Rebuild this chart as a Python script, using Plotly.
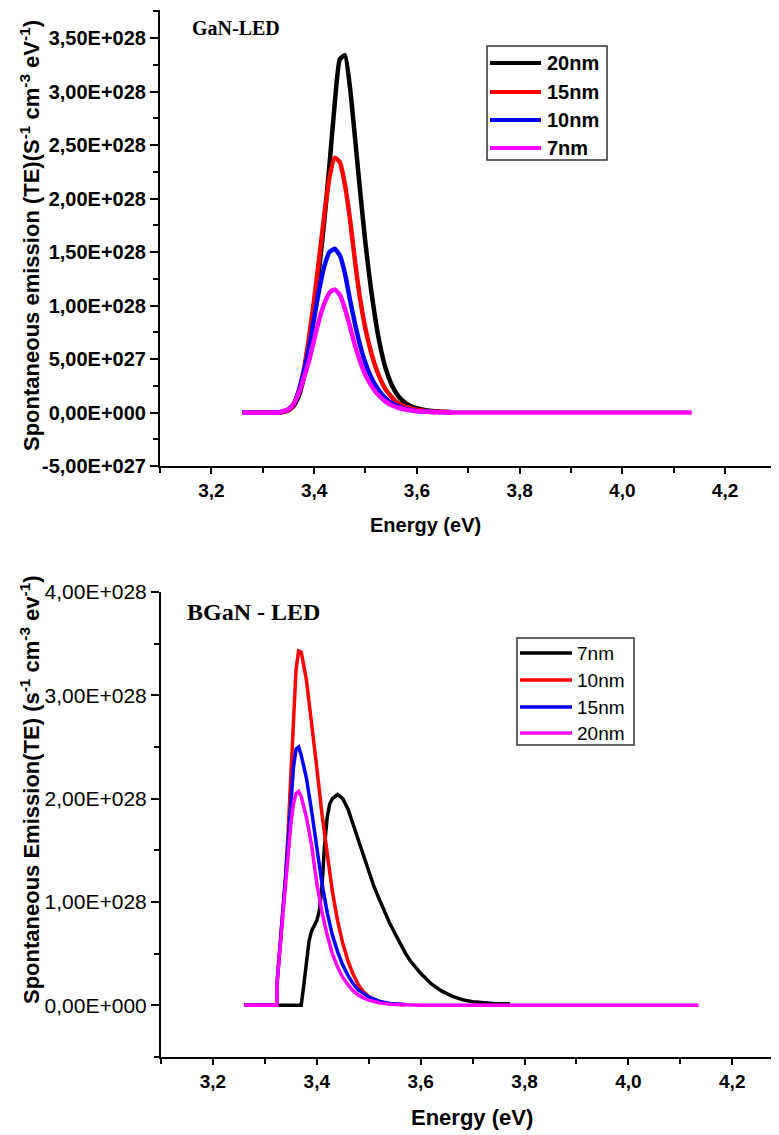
import plotly.graph_objects as go

SCALE = 1e28  # values below are in units of 1E+028

# ---------------- GaN-LED (top) ----------------
gan_energy = [3.26, 3.33, 3.35, 3.36, 3.37, 3.38, 3.39, 3.40, 3.41, 3.42, 3.43, 3.44,
              3.45, 3.46, 3.47, 3.48, 3.49, 3.50, 3.51, 3.52, 3.53, 3.54, 3.55, 3.56, 3.57,
              3.58, 3.59, 3.60, 3.62, 3.64, 3.667]
gan_energy_long = gan_energy + [3.70, 3.80, 3.90, 4.00, 4.135]
gan_20nm = [0, 0.0, 0.02, 0.06, 0.15, 0.33, 0.60, 0.95, 1.35, 1.80, 2.32, 2.88,
            3.30, 3.34, 3.03, 2.55, 2.05, 1.58, 1.18, 0.85, 0.59, 0.40, 0.27, 0.18, 0.12,
            0.08, 0.055, 0.04, 0.02, 0.01, 0.005]
gan_15nm = [0, 0.0, 0.02, 0.07, 0.20, 0.40, 0.70, 1.05, 1.45, 1.85, 2.20, 2.38,
            2.34, 2.13, 1.80, 1.40, 1.05, 0.78, 0.58, 0.42, 0.30, 0.21, 0.15, 0.10, 0.07,
            0.05, 0.035, 0.025, 0.012, 0.006, 0.003]
gan_10nm = [0, 0.0, 0.03, 0.08, 0.20, 0.38, 0.60, 0.88, 1.15, 1.37, 1.50, 1.53,
            1.47, 1.30, 1.05, 0.82, 0.62, 0.46, 0.34, 0.25, 0.18, 0.13, 0.09, 0.065, 0.045,
            0.03, 0.022, 0.015, 0.008, 0.004, 0.002]
gan_7nm = [0, 0.0, 0.03, 0.08, 0.18, 0.32, 0.48, 0.68, 0.87, 1.02, 1.12, 1.15,
           1.10, 0.97, 0.80, 0.62, 0.47, 0.35, 0.26, 0.19, 0.14, 0.10, 0.07, 0.05, 0.035,
           0.025, 0.018, 0.012, 0.006, 0.003, 0.001, 0, 0, 0, 0, 0]

# ---------------- BGaN-LED (bottom) ----------------
bgan_energy = [3.26, 3.30, 3.323, 3.324, 3.33, 3.335, 3.34, 3.345, 3.35, 3.355, 3.36, 3.365,
               3.37, 3.38, 3.39, 3.40, 3.41, 3.42, 3.43, 3.44, 3.45, 3.46, 3.47, 3.48, 3.49,
               3.50, 3.52, 3.54, 3.57]
bgan_energy_long = bgan_energy + [3.60, 3.70, 3.80, 3.90, 4.00, 4.135]
bgan_7nm_energy = [3.26, 3.30, 3.37, 3.375, 3.38, 3.385, 3.39, 3.395, 3.40, 3.405, 3.41,
                   3.415, 3.42, 3.425, 3.43, 3.44, 3.45, 3.46, 3.47, 3.48, 3.49, 3.50, 3.51,
                   3.52, 3.53, 3.54, 3.55, 3.56, 3.57, 3.58, 3.60, 3.62, 3.64, 3.66, 3.68,
                   3.70, 3.72, 3.74, 3.772]
bgan_7nm = [0, 0, 0, 0.20, 0.45, 0.62, 0.72, 0.77, 0.82, 0.92, 1.15,
            1.55, 1.82, 1.95, 2.00, 2.04, 2.00, 1.90, 1.76, 1.60, 1.45, 1.30, 1.15,
            1.03, 0.91, 0.80, 0.70, 0.60, 0.51, 0.43, 0.31, 0.21, 0.14, 0.09, 0.055,
            0.035, 0.025, 0.018, 0.015]
bgan_10nm = [0, 0, 0, 0.25, 0.60, 0.90, 1.25, 1.70, 2.20, 2.80, 3.25, 3.43,
             3.42, 3.15, 2.75, 2.30, 1.85, 1.45, 1.10, 0.82, 0.60, 0.43, 0.30, 0.20, 0.13,
             0.085, 0.035, 0.015, 0.005]
bgan_15nm = [0, 0, 0, 0.25, 0.60, 0.90, 1.25, 1.60, 1.95, 2.30, 2.48, 2.50,
             2.42, 2.20, 1.88, 1.52, 1.18, 0.90, 0.68, 0.52, 0.39, 0.29, 0.21, 0.15, 0.11,
             0.08, 0.04, 0.018, 0.007]
bgan_20nm = [0, 0, 0, 0.25, 0.60, 0.90, 1.20, 1.50, 1.75, 1.95, 2.05, 2.07,
             2.02, 1.82, 1.55, 1.18, 0.90, 0.68, 0.50, 0.37, 0.27, 0.20, 0.14, 0.10, 0.07,
             0.05, 0.025, 0.01, 0.003, 0, 0, 0, 0, 0, 0]

# ---------------- ticks ----------------
x_tickvals = [3.2, 3.4, 3.6, 3.8, 4.0, 4.2]
x_ticktext = ["3,2", "3,4", "3,6", "3,8", "4,0", "4,2"]
x_minorvals = [3.1, 3.3, 3.5, 3.7, 3.9, 4.1, 4.3]
gan_ytickvals = [-0.5, 0, 0.5, 1.0, 1.5, 2.0, 2.5, 3.0, 3.5]
gan_yticktext = ["-5,00E+027", "0,00E+000", "5,00E+027", "1,00E+028", "1,50E+028",
                 "2,00E+028", "2,50E+028", "3,00E+028", "3,50E+028"]
gan_yminor = [-0.25, 0.25, 0.75, 1.25, 1.75, 2.25, 2.75, 3.25, 3.75]
bgan_ytickvals = [0, 1.0, 2.0, 3.0, 4.0]
bgan_yticktext = ["0,00E+000", "1,00E+028", "2,00E+028", "3,00E+028", "4,00E+028"]
bgan_yminor = [-0.5, 0.5, 1.5, 2.5, 3.5]

# page body has an 8px margin: the figure starts at (8, 8) of the 779x1135 window
OFF = 8
W, H = 779 - OFF, 1135 - OFF
SANS = "Liberation Sans, Arial"
SERIF = "Liberation Serif, Times New Roman"


def px(x):
    return (x - OFF) / W


def py(y):
    return 1 - (y - OFF) / H


def sc(v):
    return [a * SCALE for a in v]


fig = go.Figure()

top_series = [("20nm", gan_energy, gan_20nm, "#000000"),
              ("15nm", gan_energy, gan_15nm, "#ff0000"),
              ("10nm", gan_energy, gan_10nm, "#0000ff"),
              ("7nm", gan_energy_long, gan_7nm, "#ff00ff")]
for name, xs, ys, col in top_series:
    fig.add_trace(go.Scatter(x=xs, y=sc(ys), name=name, mode="lines", showlegend=False,
                             line=dict(color=col, width=4.5, shape="spline", smoothing=0.5),
                             xaxis="x", yaxis="y"))

bot_series = [("7nm", bgan_7nm_energy, bgan_7nm, "#000000"),
              ("10nm", bgan_energy, bgan_10nm, "#ff0000"),
              ("15nm", bgan_energy, bgan_15nm, "#0000ff"),
              ("20nm", bgan_energy_long, bgan_20nm, "#ff00ff")]
for name, xs, ys, col in bot_series:
    fig.add_trace(go.Scatter(x=xs, y=sc(ys), name=name, mode="lines", showlegend=False,
                             line=dict(color=col, width=3.5),
                             xaxis="x2", yaxis="y2"))

x_tick_font = dict(family=SANS, size=19, color="black", weight="bold")
gan_ytick_font = dict(family=SANS, size=20, color="black", weight="bold")
bgan_ytick_font = dict(family=SANS, size=21, color="black")


def xaxis(anchor, left_px, rng):
    return dict(domain=[px(left_px), 1.0], range=rng, anchor=anchor, automargin=False,
                showline=True, linecolor="black", linewidth=2, mirror=False,
                ticks="outside", ticklen=6, tickwidth=1.5, tickcolor="black",
                tickmode="array", tickvals=x_tickvals, ticktext=x_ticktext,
                tickfont=x_tick_font, showgrid=False, zeroline=False,
                minor=dict(tickmode="array", tickvals=x_minorvals, ticks="outside",
                           ticklen=5, tickwidth=1.5, tickcolor="black", showgrid=False))


def yaxis(domain, anchor, rng, vals, texts, minor, font):
    return dict(domain=domain, range=rng, anchor=anchor, automargin=False,
                showline=True, linecolor="black", linewidth=2, mirror=False,
                ticks="outside", ticklen=8, tickwidth=1.5, tickcolor="black",
                tickmode="array", tickvals=sc(vals), ticktext=texts,
                tickfont=font, showgrid=False, zeroline=False,
                minor=dict(tickmode="array", tickvals=sc(minor), ticks="outside",
                           ticklen=5, tickwidth=1.5, tickcolor="black", showgrid=False))


fig.update_layout(
    template="none",
    width=W, height=H, margin=dict(l=0, r=0, t=0, b=0, autoexpand=False),
    paper_bgcolor="white", plot_bgcolor="white", showlegend=False,
    xaxis=xaxis("y", 160, [3.1, 4.305]),
    yaxis=yaxis([py(466), py(10)], "x", [-0.5 * SCALE, 3.762 * SCALE],
                gan_ytickvals, gan_yticktext, gan_yminor, gan_ytick_font),
    xaxis2=xaxis("y2", 161, [3.1, 4.29]),
    yaxis2=yaxis([py(1057), py(592)], "x2", [-0.5 * SCALE, 4.0 * SCALE],
                 bgan_ytickvals, bgan_yticktext, bgan_yminor, bgan_ytick_font),
)

ann = [
    dict(text="<b>GaN-LED</b>", x=px(190), y=py(28), xanchor="left", yanchor="middle",
         font=dict(family=SERIF, size=20, color="black")),
    dict(text="<b>BGaN - LED</b>", x=px(185), y=py(612), xanchor="left", yanchor="middle",
         font=dict(family=SERIF, size=24, color="black")),
    dict(text="<b>Energy (eV)</b>", x=px(425), y=py(525), xanchor="center", yanchor="middle",
         font=dict(family=SANS, size=20, color="black")),
    dict(text="<b>Energy (eV)</b>", x=px(472), y=py(1117), xanchor="center", yanchor="middle",
         font=dict(family=SANS, size=22, color="black")),
    dict(text="<b>Spontaneous emission (TE)(S<sup>-1</sup> cm<sup>-3</sup> eV<sup>-1</sup>)</b>",
         x=px(30), y=py(236), xanchor="center", yanchor="middle", textangle=-90,
         font=dict(family=SANS, size=22, color="black")),
    dict(text="<b>Spontaneous Emission(TE) (s<sup>-1</sup> cm<sup>-3</sup> ev<sup>-1</sup>)</b>",
         x=px(30), y=py(790), xanchor="center", yanchor="middle", textangle=-90,
         font=dict(family=SANS, size=22, color="black")),
]

shapes = []

# legend boxes drawn from the series names and colours
legend_specs = [
    (top_series, (487, 46, 607, 160), [63, 92, 120, 148], (490, 541), 545, 4,
     dict(family=SANS, size=20, color="black", weight="bold")),
    (bot_series, (517, 638, 634, 745), [653, 680, 707, 733], (520, 572), 575, 3.5,
     dict(family=SANS, size=19, color="black")),
]
for series, box, rows, (lx0, lx1), tx, lw, font in legend_specs:
    shapes.append(dict(type="rect", xref="paper", yref="paper",
                       x0=px(box[0]), y0=py(box[3]), x1=px(box[2]), y1=py(box[1]),
                       line=dict(color="#333", width=1.5), fillcolor="rgba(0,0,0,0)"))
    for (name, _, _, col), ry in zip(series, rows):
        shapes.append(dict(type="line", xref="paper", yref="paper",
                           x0=px(lx0), x1=px(lx1), y0=py(ry), y1=py(ry),
                           line=dict(color=col, width=lw)))
        ann.append(dict(text=name, x=px(tx), y=py(ry), xanchor="left", yanchor="middle",
                        font=font))

for a in ann:
    a.update(xref="paper", yref="paper", showarrow=False)
fig.update_layout(annotations=ann, shapes=shapes)

fig.write_html("out.html")
